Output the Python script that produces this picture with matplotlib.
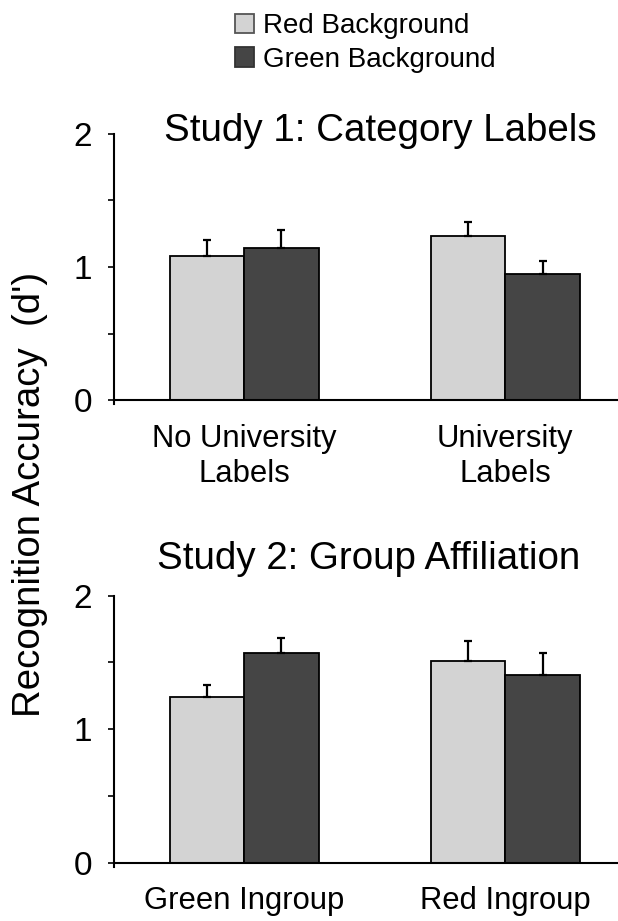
import matplotlib
matplotlib.use("Agg")
import matplotlib.pyplot as plt
from matplotlib.patches import Patch
import numpy as np

plt.rcParams['font.family'] = ['Liberation Sans', 'DejaVu Sans']

series_names = ["Red Background", "Green Background"]
colors = ["#d3d3d3", "#454545"]

study1_title = "Study 1: Category Labels"
study1_cats = ["No University\nLabels", "University\nLabels"]
study1_red = [1.085, 1.232]
study1_green = [1.139, 0.947]
study1_red_err = [0.115, 0.106]
study1_green_err = [0.140, 0.098]

study2_title = "Study 2: Group Affiliation"
study2_cats = ["Green Ingroup", "Red Ingroup"]
study2_red = [1.243, 1.511]
study2_green = [1.568, 1.406]
study2_red_err = [0.086, 0.150]
study2_green_err = [0.115, 0.162]

yticks_major = [0, 1, 2]
yticks_minor = [0.5, 1.5]
ylabel = "Recognition Accuracy  (d')"

W, H = 618, 921
fig = plt.figure(figsize=(W / 100, H / 100), dpi=100)

def fx(px):
    return px / W

def fy(py):
    return 1 - py / H

ax_left = 113.5
ax_right = 618
panels = [
    (study1_cats, study1_red, study1_green, study1_red_err, study1_green_err, 133.5, 404.3, 17),
    (study2_cats, study2_red, study2_green, study2_red_err, study2_green_err, 595.7, 866.7, 17),
]
width = 0.285
axes = []
for cats, red, green, rerr, gerr, top, bot, xpad in panels:
    ax = fig.add_axes([fx(ax_left), fy(bot), fx(ax_right) - fx(ax_left), (bot - top) / H])
    x = np.arange(len(cats))
    for vals, errs, off, c in [(red, rerr, -width / 2, colors[0]), (green, gerr, width / 2, colors[1])]:
        ax.bar(x + off, vals, width, color=c, edgecolor="black", linewidth=1.3, zorder=2)
        ax.errorbar(x + off, vals, yerr=[np.zeros(len(vals)), errs], fmt="none",
                    ecolor="black", elinewidth=1.6, capsize=2.8, capthick=1.6, zorder=3)
    ax.set_xlim(-0.5, (ax_right - 244) / 261.3)
    ax.set_ylim(-0.03, 2)
    ax.spines['top'].set_visible(False)
    ax.spines['right'].set_visible(False)
    ax.spines['bottom'].set_position(('data', 0))
    ax.spines['left'].set_linewidth(1.5)
    ax.spines['bottom'].set_linewidth(1.5)
    ax.set_yticks(yticks_major)
    ax.set_yticks(yticks_minor, minor=True)
    ax.tick_params(axis='y', which='both', direction='out', length=4.5, width=1.2, labelsize=24, pad=11)
    ax.set_xticks(x)
    ax.set_xticklabels(cats, fontsize=22.3, linespacing=1.2)
    ax.tick_params(axis='x', length=0, pad=xpad)
    axes.append(ax)

fig.text(fx(380), fy(141), study1_title, fontsize=27.7, ha='center', va='baseline')
fig.text(fx(369), fy(569), study2_title, fontsize=27.7, ha='center', va='baseline')
fig.text(fx(30), fy(494), ylabel, fontsize=27.6, rotation=90, ha='center', va='center')

handles = [Patch(facecolor=colors[0], edgecolor="#555555", linewidth=1.3),
           Patch(facecolor=colors[1], edgecolor="#333333", linewidth=1.3)]
fig.legend(handles, series_names, loc='upper left', bbox_to_anchor=(fx(235), fy(13)),
           frameon=False, fontsize=20, handlelength=0.7, handleheight=0.7,
           handletextpad=0.3, labelspacing=0.28, borderpad=0, borderaxespad=0)

fig.savefig("out.png", dpi=100)
